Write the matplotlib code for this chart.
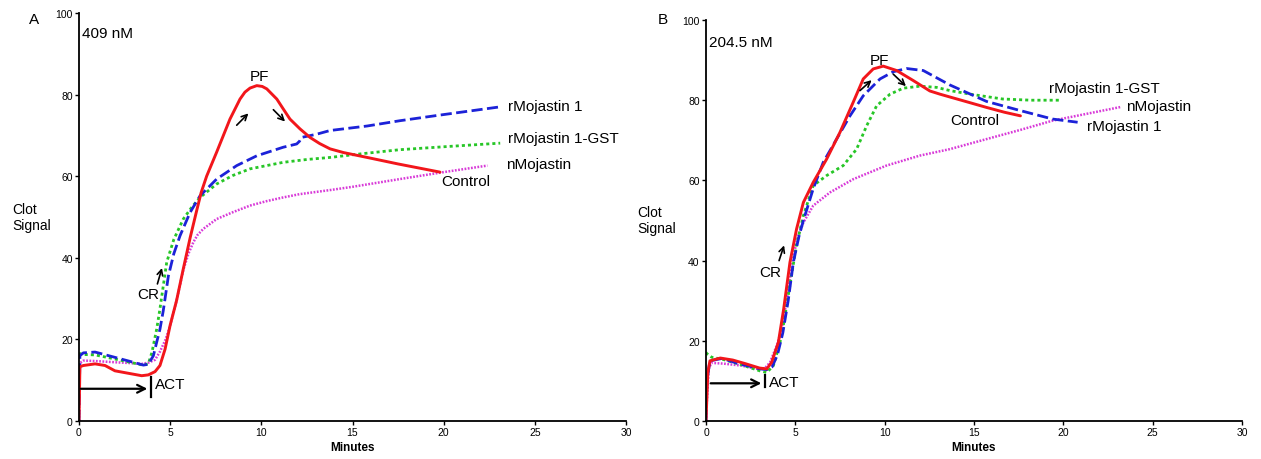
import matplotlib.pyplot as plt

plt.rcParams['font.family'] = ['Liberation Sans', 'DejaVu Sans']

# Panel A (409 nM) traces: minutes vs clot signal
a_ctrl_x = [0, 0.05, 0.24, 0.88, 1.43, 1.97, 2.7, 3.44, 3.8, 4.17, 4.44, 4.72, 5.0, 5.35, 5.72,
            6.1, 6.45, 6.7, 7.0, 7.55, 8.28, 8.83, 9.1, 9.38, 9.75, 10.05, 10.3, 10.85, 11.2,
            11.57, 12.12, 12.67, 13.2, 13.77, 14.5, 15.8, 17.5, 19.8]
a_ctrl_y = [0, 13.3, 13.6, 14.0, 13.6, 12.3, 11.7, 11.1, 11.3, 12.1, 13.6, 17.6, 23.5, 29.5, 37.3,
            45.0, 51.5, 56.0, 60.0, 65.9, 74.0, 78.9, 80.6, 81.6, 82.2, 82.0, 81.4, 78.9, 76.5,
            74.0, 71.6, 69.5, 68.0, 66.7, 65.8, 64.6, 63.0, 61.0]

a_rmoj_x = [0, 0.05, 0.24, 0.88, 1.97, 2.89, 3.53, 3.8, 4.08, 4.26, 4.44, 4.62, 4.9, 5.2, 5.54,
            6.09, 6.64, 7.55, 8.65, 9.75, 11.2, 11.94, 12.1, 12.2, 13.04, 13.77, 15.8, 17.6,
            19.5, 21.3, 23.1]
a_rmoj_y = [0, 16.0, 16.7, 16.9, 15.6, 14.5, 13.7, 13.9, 16.0, 19.3, 22.5, 27.0, 35.5, 41.0, 45.4,
            51.1, 55.2, 59.3, 62.6, 65.0, 67.1, 67.9, 68.6, 69.5, 70.3, 71.2, 72.3, 73.6,
            74.8, 75.9, 77.0]

a_gst_x = [0, 0.05, 0.24, 0.88, 1.97, 2.89, 3.5, 3.8, 4.0, 4.26, 4.44, 4.81, 5.2, 5.72, 6.2,
           6.64, 7.55, 8.45, 9.38, 11.2, 12.5, 13.77, 15.5, 17.6, 20.3, 23.1]
a_gst_y = [16.7, 16.5, 16.3, 16.2, 15.2, 14.3, 13.7, 14.0, 16.8, 22.5, 27.5, 38.9, 44.5, 49.5, 52.5,
           54.8, 58.1, 60.2, 61.8, 63.4, 64.1, 64.6, 65.5, 66.5, 67.3, 68.1]

a_nmoj_x = [0, 0.05, 0.24, 0.88, 1.97, 2.8, 3.44, 3.8, 4.17, 4.44, 4.75, 5.0, 5.35, 5.72, 6.0,
            6.27, 6.5, 6.82, 7.55, 8.45, 9.38, 10.3, 11.2, 12.1, 13.77, 15.0, 17.6, 20.0, 22.4]
a_nmoj_y = [0, 14.2, 14.8, 14.7, 14.4, 14.2, 14.0, 14.3, 15.0, 17.0, 20.0, 23.4, 29.5, 37.0, 41.0,
            43.8, 45.6, 47.1, 49.5, 51.2, 52.8, 53.9, 54.8, 55.6, 56.6, 57.4, 59.3, 61.0, 62.6]

# Panel B (204.5 nM) traces
b_ctrl_x = [0, 0.1, 0.22, 0.8, 1.5, 2.2, 3.0, 3.4, 3.67, 4.05, 4.35, 4.7, 5.07, 5.45, 6.0, 6.75,
            7.5, 8.24, 8.8, 9.36, 9.92, 10.67, 11.6, 12.53, 13.1, 13.65, 14.6, 15.7, 16.7, 17.6]
b_ctrl_y = [0, 12.0, 15.0, 15.7, 15.2, 14.3, 13.2, 13.0, 14.6, 19.6, 28.0, 39.6, 47.9, 54.5, 59.5, 65.3,
            72.0, 79.5, 85.3, 87.8, 88.5, 87.4, 84.9, 82.3, 81.5, 80.8, 79.6, 78.2, 77.0, 76.1]

b_rmoj_x = [0, 0.05, 0.22, 0.9, 1.9, 2.5, 3.02, 3.4, 3.7, 4.0, 4.3, 4.6, 4.89, 5.2, 5.45, 6.0,
            6.56, 7.31, 8.06, 8.8, 9.74, 10.48, 11.23, 12.16, 13.65, 14.8, 15.7, 17.6, 19.4, 20.8]
b_rmoj_y = [0, 10.0, 15.0, 15.6, 14.2, 13.6, 13.0, 12.8, 13.5, 16.5, 22.0, 30.0, 39.6, 46.0, 50.0, 57.9,
            64.5, 70.3, 76.1, 81.1, 85.3, 87.1, 87.9, 87.4, 83.8, 81.5, 79.7, 77.4, 75.3, 74.5]

b_gst_x = [0, 0.05, 0.32, 1.0, 2.0, 3.02, 3.4, 3.77, 4.14, 4.3, 4.7, 5.07, 5.45, 6.0, 6.75, 7.68,
           8.43, 8.99, 9.55, 10.3, 11.04, 11.98, 12.9, 13.65, 14.8, 16.6, 18.2, 19.8]
b_gst_y = [17.1, 16.8, 15.9, 15.3, 14.0, 12.5, 12.1, 13.8, 19.6, 23.0, 34.0, 44.0, 51.2, 58.7, 61.2, 63.7,
           67.8, 73.6, 78.6, 81.5, 83.0, 83.5, 83.2, 82.4, 81.5, 80.3, 80.0, 80.0]

b_nmoj_x = [0, 0.05, 0.15, 0.3, 1.0, 2.0, 2.84, 3.3, 3.58, 3.96, 4.24, 4.55, 4.89, 5.15, 5.45, 6.0,
            6.94, 8.24, 10.1, 11.98, 13.65, 15.7, 17.6, 19.4, 21.3, 23.2]
b_nmoj_y = [0, 5.0, 13.0, 14.5, 14.3, 13.8, 13.0, 13.2, 14.6, 18.8, 22.9, 31.0, 41.2, 46.0, 49.5, 53.7,
            57.0, 60.3, 63.7, 66.2, 67.8, 70.3, 72.6, 74.9, 76.6, 78.3]

x_ticks = [0, 5, 10, 15, 20, 25, 30]
y_ticks = [0, 20, 40, 60, 80, 100]

red = '#f2161b'
blue = '#1c22d8'
green = '#27c627'
magenta = '#d83ad8'

fig = plt.figure(figsize=(12.61, 4.6), dpi=100)
axA = fig.add_axes([79 / 1261, 38 / 460, 547 / 1261, 408 / 460])
axB = fig.add_axes([706 / 1261, 38 / 460, 536 / 1261, 401 / 460])


def draw_traces(ax, ctrl, rmoj, gst, nmoj):
    ax.plot(*nmoj, color=magenta, lw=1.8, ls=(0, (0.7, 0.6)))
    ax.plot(*gst, color=green, lw=2.0, ls=(0, (1.1, 1.1)))
    ax.plot(*rmoj, color=blue, lw=2.0, ls=(0, (4, 1.6)), dash_joinstyle='round')
    ax.plot(*ctrl, color=red, lw=2.1, solid_capstyle='round', solid_joinstyle='round')


def style_axes(ax):
    ax.set_xlim(0, 30)
    ax.set_ylim(0, 100)
    ax.set_xticks(x_ticks)
    ax.set_yticks(y_ticks)
    ax.spines['top'].set_visible(False)
    ax.spines['right'].set_visible(False)
    for s in ('left', 'bottom'):
        ax.spines[s].set_linewidth(1.3)
    ax.tick_params(labelsize=7.5, length=3, width=1, pad=1.5)
    ax.set_xlabel('Minutes', fontsize=8.5, fontweight='bold', labelpad=3)


def arrow(ax, x0, y0, x1, y1, lw=1.2, ms=10):
    ax.annotate('', xy=(x1, y1), xytext=(x0, y0),
                arrowprops=dict(arrowstyle='->', lw=lw, color='black', mutation_scale=ms,
                                shrinkA=0, shrinkB=0))


draw_traces(axA, (a_ctrl_x, a_ctrl_y), (a_rmoj_x, a_rmoj_y), (a_gst_x, a_gst_y), (a_nmoj_x, a_nmoj_y))
draw_traces(axB, (b_ctrl_x, b_ctrl_y), (b_rmoj_x, b_rmoj_y), (b_gst_x, b_gst_y), (b_nmoj_x, b_nmoj_y))
style_axes(axA)
style_axes(axB)

fs = 11
# panel A labels
axA.text(0.15, 95, '409 nM', fontsize=fs, va='center')
axA.text(23.55, 77.3, 'rMojastin 1', fontsize=fs, va='center')
axA.text(23.55, 69.3, 'rMojastin 1-GST', fontsize=fs, va='center')
axA.text(23.4, 63.0, 'nMojastin', fontsize=fs, va='center')
axA.text(19.85, 58.9, 'Control', fontsize=fs, va='center')
axA.text(9.87, 84.5, 'PF', fontsize=fs, va='center', ha='center')
arrow(axA, 8.65, 72.5, 9.29, 75.4)
arrow(axA, 10.66, 76.3, 11.3, 73.4)
axA.text(3.2, 31.1, 'CR', fontsize=fs, va='center')
arrow(axA, 4.3, 33.6, 4.55, 37.5)
arrow(axA, 0.1, 7.9, 3.75, 7.9, lw=1.6, ms=14)
axA.plot([3.95, 3.95], [6.0, 10.8], color='black', lw=1.6)
axA.text(4.15, 9.0, 'ACT', fontsize=fs, va='center')

# panel B labels
axB.text(0.15, 94.5, '204.5 nM', fontsize=fs, va='center')
axB.text(19.2, 83.0, 'rMojastin 1-GST', fontsize=fs, va='center')
axB.text(23.5, 78.6, 'nMojastin', fontsize=fs, va='center')
axB.text(21.3, 73.5, 'rMojastin 1', fontsize=fs, va='center')
axB.text(13.65, 75.1, 'Control', fontsize=fs, va='center')
axB.text(9.68, 90.0, 'PF', fontsize=fs, va='center', ha='center')
arrow(axB, 8.62, 82.4, 9.27, 85.0)
arrow(axB, 10.48, 86.5, 11.19, 83.5)
axB.text(3.0, 37.2, 'CR', fontsize=fs, va='center')
arrow(axB, 4.09, 40.0, 4.37, 43.8)
arrow(axB, 0.26, 9.4, 3.1, 9.4, lw=1.6, ms=14)
axB.plot([3.3, 3.3], [8.6, 11.4], color='black', lw=1.6)
axB.text(3.55, 9.7, 'ACT', fontsize=fs, va='center')

# panel letters and y labels
fig.text(34 / 1261, 1 - 20 / 460, 'A', fontsize=11, ha='center', va='center')
fig.text(663 / 1261, 1 - 20 / 460, 'B', fontsize=11, ha='center', va='center')
fig.text(12 / 1261, 1 - 218 / 460, 'Clot\nSignal', fontsize=10, va='center', linespacing=1.2)
fig.text(637 / 1261, 1 - 221 / 460, 'Clot\nSignal', fontsize=10, va='center', linespacing=1.2)

fig.savefig('out.png', dpi=100)
